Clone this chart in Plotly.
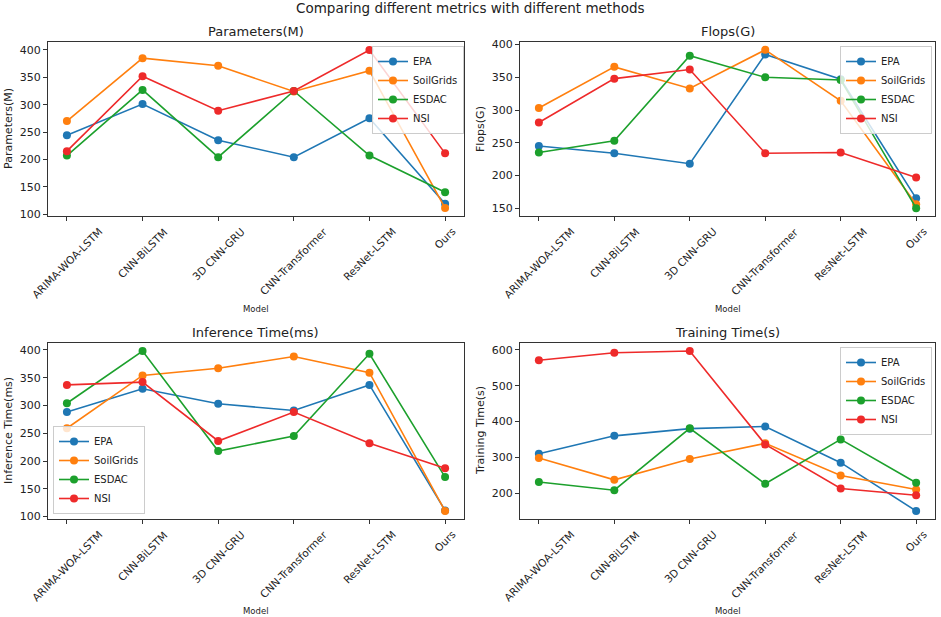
import plotly.graph_objects as go

models = ["ARIMA-WOA-LSTM", "CNN-BiLSTM", "3D CNN-GRU", "CNN-Transformer", "ResNet-LSTM", "Ours"]
datasets = ["EPA", "SoilGrids", "ESDAC", "NSI"]
colors = ["#1f77b4", "#ff7f0e", "#1ca02c", "#ee2a2a"]

params_epa = [244, 301, 235, 204, 275, 119]
params_soil = [270, 385, 371, 324, 362, 111]
params_esdac = [207, 327, 204, 325, 207, 140]
params_nsi = [215, 352, 289, 325, 400, 211]

flops_epa = [245, 234, 218, 385, 347, 165]
flops_soil = [303, 366, 333, 392, 314, 156]
flops_esdac = [235, 253, 383, 350, 346, 150]
flops_nsi = [281, 348, 362, 234, 235, 197]

infer_epa = [288, 330, 303, 291, 337, 111]
infer_soil = [259, 354, 367, 388, 359, 110]
infer_esdac = [304, 398, 218, 245, 393, 171]
infer_nsi = [337, 342, 236, 288, 232, 187]

train_epa = [310, 360, 380, 386, 285, 150]
train_soil = [298, 237, 295, 339, 249, 210]
train_esdac = [231, 208, 381, 226, 350, 229]
train_nsi = [571, 592, 597, 336, 213, 194]

panels = [
    ("Parameters(M)", "Parameters(M)", [params_epa, params_soil, params_esdac, params_nsi], [96.5, 414.5], 50),
    ("Flops(G)", "Flops(G)", [flops_epa, flops_soil, flops_esdac, flops_nsi], [138, 404], 50),
    ("Inference Time(ms)", "Inference Time(ms)", [infer_epa, infer_soil, infer_esdac, infer_nsi], [95.6, 412.4], 50),
    ("Training Time(s)", "Training Time(s)", [train_epa, train_soil, train_esdac, train_nsi], [127.6, 619.4], 100),
]

W, H = 941, 617
xdoms = [[48 / W, 464 / W], [520 / W, 935 / W], [48 / W, 464 / W], [520 / W, 935 / W]]
ybot_px = [216, 216, 519, 519]
ytop_px = [42, 42, 343, 343]
ydoms = [[1 - b / H, 1 - t / H] for b, t in zip(ybot_px, ytop_px)]
legpos = [
    (464 / W, 1 - 46 / H, "right", "top"),
    (932 / W, 1 - 46 / H, "right", "top"),
    (53 / W, 1 - 514 / H, "left", "bottom"),
    (932 / W, 1 - 347 / H, "right", "top"),
]

FONT = "DejaVu Sans"
fig = go.Figure()
layout = dict(
    width=W, height=H,
    margin=dict(l=0, r=0, t=0, b=0, autoexpand=False),
    paper_bgcolor="white", plot_bgcolor="white",
    font=dict(family=FONT, color="#222", size=11),
    showlegend=True,
)
annotations = [dict(text="Comparing different metrics with different methods", x=470 / W, y=1 - 8 / H,
                    xref="paper", yref="paper", showarrow=False, font=dict(size=13.5, family=FONT, color="#222"),
                    xanchor="center", yanchor="middle")]

for i, (title, ytitle, series, yr, dt) in enumerate(panels):
    n = i + 1
    xa = "x" if n == 1 else f"x{n}"
    ya = "y" if n == 1 else f"y{n}"
    lg = "legend" if n == 1 else f"legend{n}"
    for j, name in enumerate(datasets):
        fig.add_trace(go.Scatter(
            x=list(range(len(models))), y=series[j], name=name, mode="lines+markers",
            line=dict(color=colors[j], width=1.6), marker=dict(color=colors[j], size=8),
            xaxis=xa, yaxis=ya, legend=lg,
        ))
    axis_common = dict(showline=True, linecolor="#333", linewidth=1, mirror=True, ticks="outside",
                       ticklen=4, tickcolor="#333", showgrid=False, zeroline=False, automargin=False,
                       tickfont=dict(size=11, family=FONT, color="#222"))
    layout["xaxis" if n == 1 else f"xaxis{n}"] = dict(
        domain=xdoms[i], anchor=ya, range=[-0.25, 5.25],
        tickmode="array", tickvals=list(range(len(models))), showticklabels=False,
        **axis_common)
    layout["yaxis" if n == 1 else f"yaxis{n}"] = dict(
        domain=ydoms[i], anchor=xa, range=yr, dtick=dt, tick0=0, **axis_common)
    # matplotlib-style rotated category labels, centred under each tick
    for k, m in enumerate(models):
        annotations.append(dict(text=m, x=k, xref=xa, y=1 - (ybot_px[i] + 8) / H, yref="paper",
                                showarrow=False, textangle=-45, xanchor="center", yanchor="top",
                                borderpad=0, font=dict(size=10.5, family=FONT, color="#222")))
    lx, ly, xan, yan = legpos[i]
    layout[lg] = dict(x=lx, y=ly, xanchor=xan, yanchor=yan, xref="paper", yref="paper",
                      bgcolor="rgba(255,255,255,0.8)", bordercolor="#cccccc", borderwidth=1,
                      font=dict(size=10, family=FONT, color="#222"), tracegroupgap=0,
                      itemwidth=30)
    xc = (xdoms[i][0] + xdoms[i][1]) / 2
    ytop = ydoms[i][1]
    annotations.append(dict(text=title, x=xc, y=ytop + 11 / H, xref="paper", yref="paper", showarrow=False,
                            font=dict(size=13, family=FONT, color="#222"), xanchor="center", yanchor="middle"))
    ybot = 309 if i < 2 else 611
    annotations.append(dict(text="Model", x=xc, y=1 - ybot / H, xref="paper", yref="paper", showarrow=False,
                            font=dict(size=8.5, family=FONT, color="#222"), xanchor="center", yanchor="middle"))
    ym = (ydoms[i][0] + ydoms[i][1]) / 2
    xt = 9 if i % 2 == 0 else 481
    annotations.append(dict(text=ytitle, x=xt / W, y=ym, xref="paper", yref="paper", showarrow=False,
                            textangle=-90, font=dict(size=11, family=FONT, color="#222"),
                            xanchor="center", yanchor="middle"))

layout["annotations"] = annotations
fig.update_layout(**layout)
fig.write_html("out.html", config={"displayModeBar": False},
               post_script="document.body.style.margin='0';")
